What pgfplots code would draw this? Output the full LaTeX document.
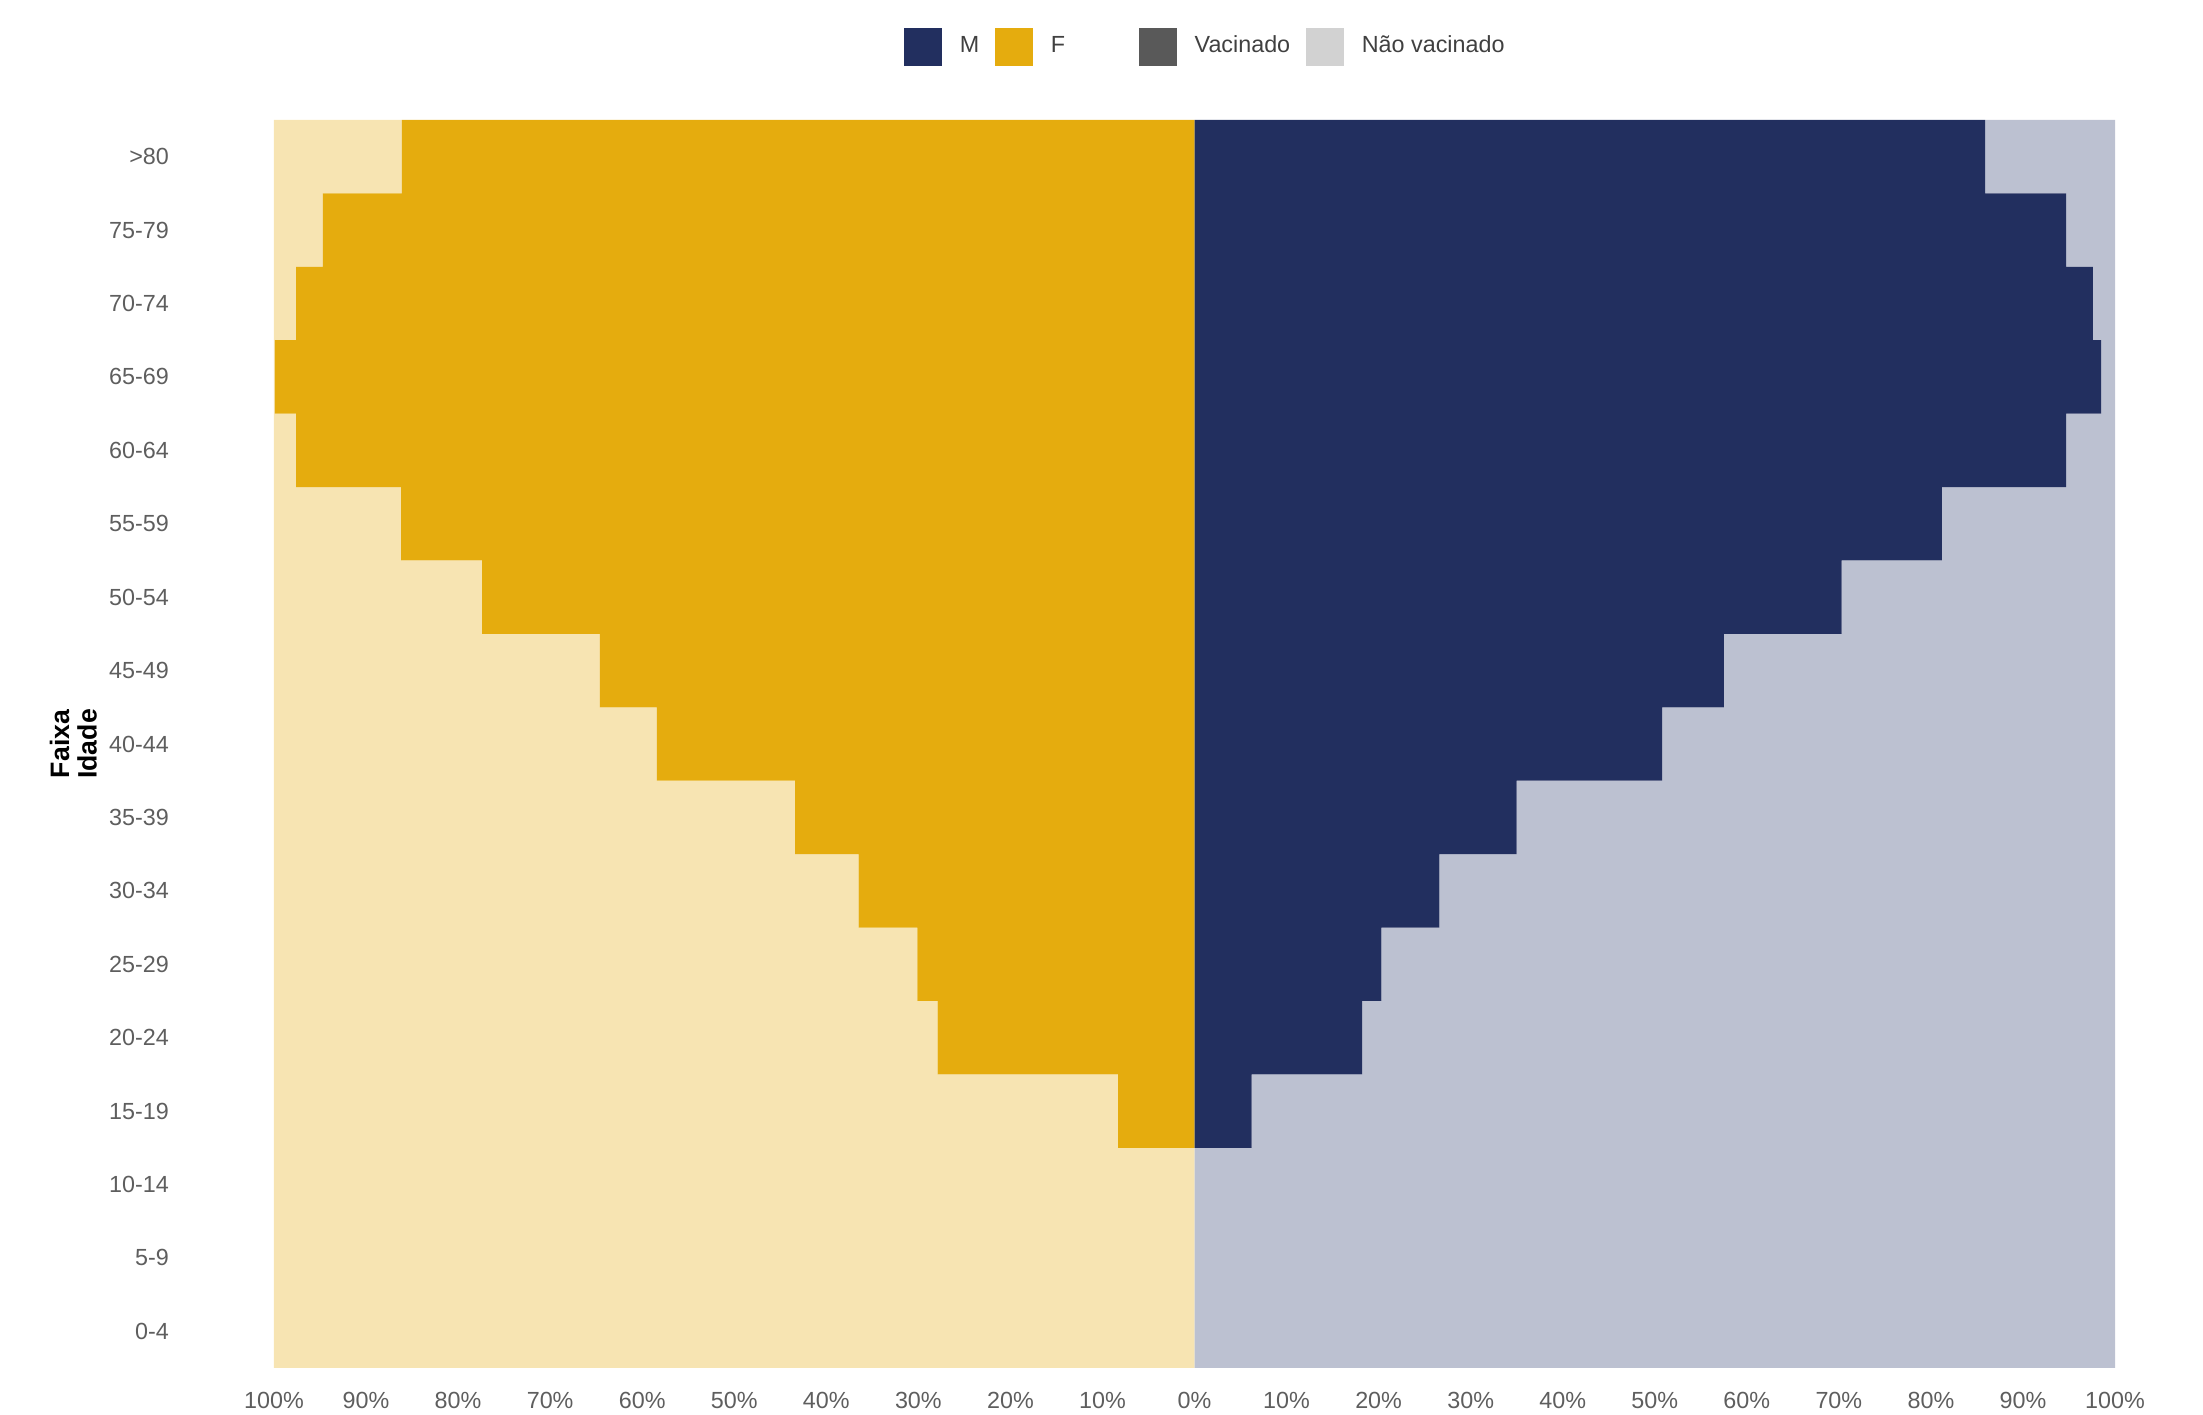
\documentclass[border=0pt]{standalone}
\usepackage{pgfplots}
\pgfplotsset{compat=1.18}
\usepackage{fontspec}
\setmainfont{Liberation Sans}
\definecolor{navy}{HTML}{222F5F}
\definecolor{gold}{HTML}{E5AC0E}
\definecolor{lgold}{HTML}{F7E4B2}
\definecolor{lnavy}{HTML}{BCC1D1}
\definecolor{dgray}{HTML}{595959}
\definecolor{lgray}{HTML}{D2D2D2}
\definecolor{tickgray}{HTML}{5E5E5E}
\begin{document}
\begin{tikzpicture}
\path[use as bounding box] (-82.2pt,-14.1pt) rectangle (578.7pt,410.4pt);
\pgfplotsset{
  common/.style={
    at={(0,0)}, anchor=south west, scale only axis,
    width=552.3pt, height=374.4pt,
    xmin=-100, xmax=100, ymin=-0.5, ymax=16.5,
    xbar stacked, bar width=1, bar shift=0pt,
    axis line style={draw=none}, major tick length=0pt,
    legend style={draw=none, fill=none, anchor=west, legend columns=-1,
      inner sep=0pt, font=\fontsize{7}{8}\selectfont, text=black!75,
      /tikz/every odd column/.append style={column sep=3.4pt},
      /tikz/every even column/.append style={column sep=2.7pt}},
    legend cell align=left,
    legend image code/.code={\fill (0pt,-5.7pt) rectangle (11.4pt,5.7pt);},
  }
}
% Female (left side): vaccinated then not vaccinated, stacked to -100
\begin{axis}[common,
  xtick={-100,-90,...,100},
  xticklabels={100\%,90\%,80\%,70\%,60\%,50\%,40\%,30\%,20\%,10\%,0\%,10\%,20\%,30\%,40\%,50\%,60\%,70\%,80\%,90\%,100\%},
  ytick={0,...,16},
  yticklabels={0-4,5-9,10-14,15-19,20-24,25-29,30-34,35-39,40-44,45-49,50-54,55-59,60-64,65-69,70-74,75-79,>80},
  ticklabel style={font=\fontsize{7}{8}\selectfont, text=tickgray},
  yticklabel style={xshift=-28pt},
  xticklabel style={yshift=-3.7pt},
  ylabel={Faixa\\Idade},
  ylabel style={at={(axis description cs:-0.109,0.5)}, anchor=center, align=center,
    font=\fontsize{8}{8.2}\selectfont\bfseries},
  legend style={at={(axis description cs:0.3417,1.0585)}},
]
\addplot[fill=gold, draw=none, forget plot] coordinates {
(0,0) (0,1) (0,2) (-8.3,3) (-27.9,4) (-30.1,5) (-36.5,6) (-43.4,7) (-58.4,8)
(-64.6,9) (-77.4,10) (-86.2,11) (-97.6,12) (-99.9,13) (-97.6,14) (-94.7,15) (-86.1,16)};
\addplot[fill=lgold, draw=none, forget plot] coordinates {
(-100,0) (-100,1) (-100,2) (-91.7,3) (-72.1,4) (-69.9,5) (-63.5,6) (-56.6,7) (-41.6,8)
(-35.4,9) (-22.6,10) (-13.8,11) (-2.4,12) (-0.1,13) (-2.4,14) (-5.3,15) (-13.9,16)};
\addlegendimage{fill=navy, draw=none}
\addlegendentry{M}
\addlegendimage{fill=gold, draw=none}
\addlegendentry{F}
\end{axis}
% Male (right side)
\begin{axis}[common, hide axis,
  legend style={at={(axis description cs:0.4693,1.0585)}},
]
\addplot[fill=navy, draw=none, forget plot] coordinates {
(0,0) (0,1) (0,2) (6.2,3) (18.2,4) (20.3,5) (26.6,6) (35.0,7) (50.8,8)
(57.5,9) (70.3,10) (81.2,11) (94.7,12) (98.5,13) (97.6,14) (94.7,15) (85.9,16)};
\addplot[fill=lnavy, draw=none, forget plot] coordinates {
(100,0) (100,1) (100,2) (93.8,3) (81.8,4) (79.7,5) (73.4,6) (65.0,7) (49.2,8)
(42.5,9) (29.7,10) (18.8,11) (5.3,12) (1.5,13) (2.4,14) (5.3,15) (14.1,16)};
\addlegendimage{fill=dgray, draw=none}
\addlegendentry{Vacinado}
\addlegendimage{fill=lgray, draw=none}
\addlegendentry{Não vacinado}
\end{axis}
\end{tikzpicture}
\end{document}
